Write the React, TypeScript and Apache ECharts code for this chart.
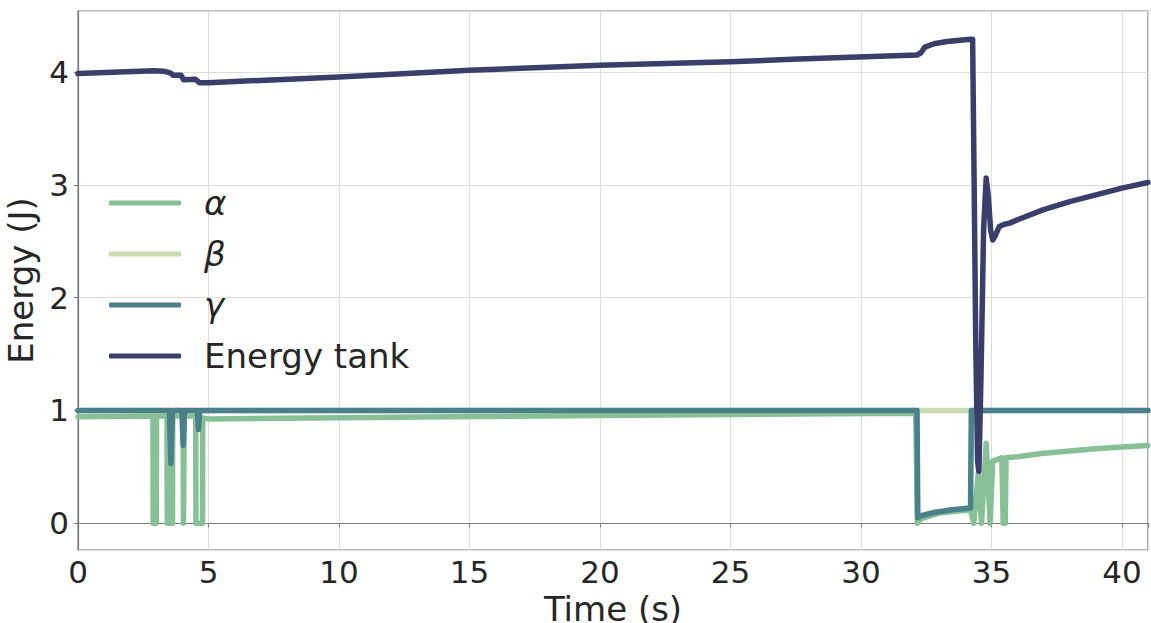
import React, { useEffect, useRef } from "react";
import * as echarts from "echarts";

const seriesNames = ["α", "β", "γ", "Energy tank"];
const seriesColors = ["#87c096", "#c9dcb3", "#4a808a", "#393e6b"];

const alphaData: [number, number][] = [
  [0, 0.945], [2.87, 0.95], [2.88, 0], [3.0, 0], [3.01, 0.95], [3.41, 0.95], [3.42, 0], [3.62, 0], [3.63, 0.95],
  [4.03, 0.95], [4.04, 0], [4.06, 0], [4.07, 0.95], [4.51, 0.95], [4.52, 0], [4.77, 0], [4.78, 0.93],
  [5, 0.925], [10, 0.935], [20, 0.955], [32.1, 0.975], [32.16, 0], [32.3, 0.04], [33, 0.09], [34.2, 0.12],
  [34.32, 0], [34.5, 0.45], [34.62, 0], [34.8, 0.71], [34.95, 0], [35.05, 0.55], [35.4, 0.58], [35.45, 0],
  [35.53, 0], [35.56, 0.58], [36, 0.59], [37, 0.62], [38, 0.64], [39, 0.66], [40, 0.675], [41, 0.69],
];

const betaData: [number, number][] = [
  [0, 1.0], [32.16, 1.0], [34.22, 1.0], [41, 1.0],
];

const gammaData: [number, number][] = [
  [0, 1.0], [3.5, 1.0], [3.56, 0.53], [3.62, 1.0], [3.98, 1.0], [4.03, 0.69], [4.08, 1.0],
  [4.57, 1.0], [4.62, 0.83], [4.67, 1.0], [32.15, 1.0], [32.18, 0.05], [32.35, 0.07], [32.8, 0.095],
  [33.5, 0.12], [34.2, 0.135], [34.23, 1.0], [41, 1.0],
];

const tankData: [number, number][] = [
  [0, 3.985], [2.9, 4.01], [3.3, 4.005], [3.4, 4.0], [3.55, 3.99], [3.65, 3.97], [3.95, 3.97], [4.05, 3.93],
  [4.5, 3.935], [4.65, 3.905], [5, 3.905], [8.5, 3.94], [10, 3.955], [15, 4.015], [20, 4.06], [25, 4.09],
  [27.6, 4.115], [32.15, 4.15], [32.3, 4.17], [32.45, 4.22], [32.8, 4.25], [33.3, 4.27], [34.2, 4.29],
  [34.28, 4.29], [34.33, 3.2], [34.4, 1.6], [34.47, 0.55], [34.52, 0.46], [34.6, 1.3], [34.7, 2.6],
  [34.8, 3.06], [34.88, 2.9], [34.97, 2.6], [35.05, 2.51], [35.15, 2.55], [35.3, 2.63], [35.5, 2.65],
  [35.7, 2.66], [36, 2.69], [37, 2.78], [38, 2.85], [39, 2.91], [40, 2.97], [41, 3.02],
];

const allData = [alphaData, betaData, gammaData, tankData];

const xTicks = [0, 5, 10, 15, 20, 25, 30, 35, 40];
const yTicks = [0, 1, 2, 3, 4];

const FONT = "DejaVu Sans";
const TEXT = "#262626";

export default function App() {
  const ref = useRef<HTMLDivElement>(null);
  useEffect(() => {
    if (!ref.current) return;
    const chart = echarts.init(ref.current, undefined, { renderer: "svg" });
    chart.setOption({
      animation: false,
      backgroundColor: "#ffffff",
      textStyle: { fontFamily: FONT, color: TEXT },
      grid: {
        left: 78, right: 3, top: 11, bottom: 73,
        containLabel: false,
        outerBoundsMode: "none",
        show: true, borderColor: "#7a7a7a", borderWidth: 1.2, backgroundColor: "transparent",
      },
      legend: {
        orient: "vertical",
        left: 104,
        top: 181,
        icon: "roundRect",
        itemWidth: 72,
        itemHeight: 5,
        itemGap: 17,
        data: seriesNames,
        textStyle: {
          fontFamily: FONT, fontSize: 34, color: TEXT, padding: [0, 0, 0, 18],
          rich: { i: { fontFamily: FONT, fontSize: 34, fontStyle: "italic", color: TEXT } },
        },
        formatter: (name: string) => (name.length === 1 ? `{i|${name}}` : name),
      },
      xAxis: {
        type: "value",
        min: 0,
        max: 41,
        interval: 5,
        name: "Time (s)",
        nameLocation: "middle",
        nameGap: 36,
        nameTextStyle: { fontFamily: FONT, fontSize: 34, color: TEXT },
        axisLine: { show: true, lineStyle: { color: "#7a7a7a", width: 1.2 } },
        axisTick: { show: true, length: 4, lineStyle: { color: "#7a7a7a" } },
        axisLabel: {
          fontFamily: FONT, fontSize: 31, color: TEXT, margin: 6,
          formatter: (v: number) => (xTicks.includes(v) ? String(v) : ""),
        },
        splitLine: { show: true, lineStyle: { color: "#dddddd", width: 1 } },
      },
      yAxis: {
        type: "value",
        min: -0.237,
        max: 4.54,
        splitNumber: 5,
        name: "Energy (J)",
        nameLocation: "middle",
        nameGap: 36,
        nameRotate: 90,
        nameTextStyle: { fontFamily: FONT, fontSize: 34, color: TEXT },
        axisLine: { show: true, lineStyle: { color: "#7a7a7a", width: 1.2 } },
        axisTick: { show: true, length: 4, lineStyle: { color: "#7a7a7a" } },
        axisLabel: {
          fontFamily: FONT, fontSize: 31, color: TEXT, margin: 9,
          showMinLabel: false, showMaxLabel: false,
          formatter: (v: number) => {
            const r = Math.round(v);
            return Math.abs(v - r) < 1e-6 && yTicks.includes(r) ? String(r) : "";
          },
        },
        splitLine: { show: true, lineStyle: { color: "#dddddd", width: 1 } },
      },
      series: seriesNames.map((name, i) => ({
        name,
        type: "line",
        data: allData[i],
        showSymbol: false,
        symbol: "none",
        color: seriesColors[i],
        lineStyle: { color: seriesColors[i], width: 5.5, cap: "round", join: "round" },
        z: 2 + i,
      })),
    });
    return () => chart.dispose();
  }, []);
  return (
    <div
      ref={ref}
      style={{ position: "fixed", left: 0, top: 0, width: 1151, height: 623 }}
    />
  );
}
